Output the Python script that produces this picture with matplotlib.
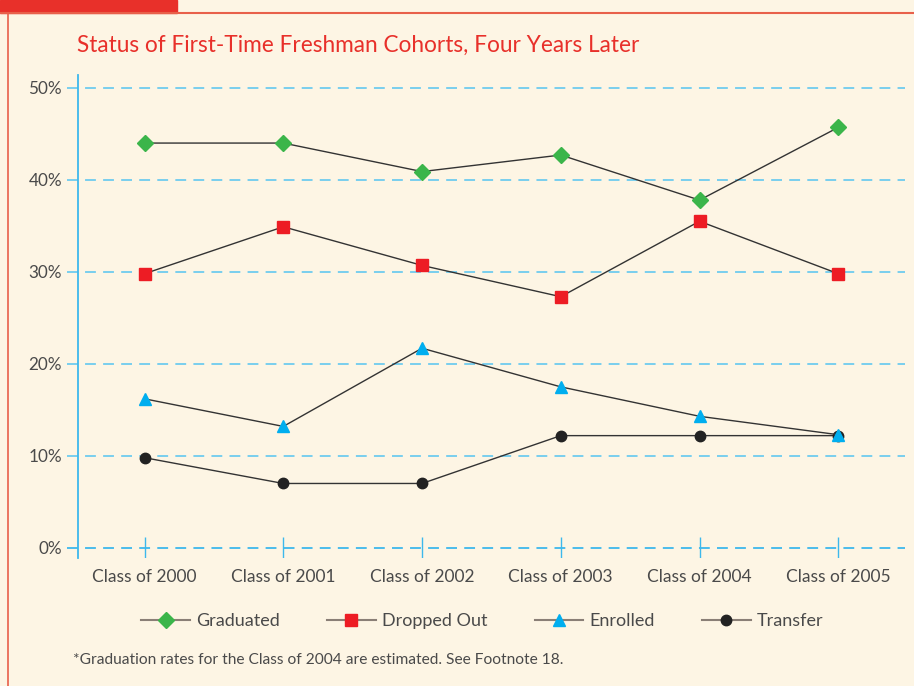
import matplotlib
matplotlib.use("Agg")
import matplotlib.pyplot as plt
from matplotlib.patches import Rectangle
from matplotlib.lines import Line2D

classes = ["Class of 2000", "Class of 2001", "Class of 2002",
           "Class of 2003", "Class of 2004", "Class of 2005"]
graduated = [44.0, 44.0, 40.9, 42.7, 37.8, 45.7]
dropped_out = [29.8, 34.9, 30.7, 27.3, 35.5, 29.8]
enrolled = [16.2, 13.2, 21.7, 17.5, 14.3, 12.3]
transfer = [9.8, 7.0, 7.0, 12.2, 12.2, 12.2]
y_ticks = [0, 10, 20, 30, 40, 50]
y_labels = ["0%", "10%", "20%", "30%", "40%", "50%"]

bg = "#FDF5E4"
red = "#E8302A"
grid_blue = "#6FCBEF"
axis_blue = "#3DB8EC"
text_gray = "#4A4A4A"

plt.rcParams["font.family"] = ["Lato", "DejaVu Sans"]

fig = plt.figure(figsize=(9.14, 6.86), dpi=100, facecolor=bg)
ax = fig.add_axes([0.0853, 0.1866, 0.9047, 0.7041])
ax.set_facecolor(bg)

# page decoration: red tab, top rule, left rule
fig.patches.append(Rectangle((0, 1 - 13 / 686), 177 / 914, 13 / 686,
                             transform=fig.transFigure, color=red, zorder=0))
fig.add_artist(Line2D([0, 1], [1 - 13 / 686] * 2, transform=fig.transFigure,
                      color="#E8604A", lw=1.5))
fig.add_artist(Line2D([8 / 914] * 2, [0, 1 - 13 / 686], transform=fig.transFigure,
                      color="#E8604A", lw=1.2))

x = list(range(len(classes)))
ax.set_xlim(-0.48, 5.48)
ax.set_ylim(-1.1, 51.4)

for t in y_ticks:
    ax.axhline(t, xmin=-0.013, xmax=1, color=grid_blue if t else axis_blue,
               lw=1.3, dashes=(6, 4), clip_on=False, zorder=1)
ax.vlines(x, -1.2, 1.2, color=axis_blue, lw=1.0, zorder=1)

line_kw = dict(color="#333333", lw=1.0)
ax.plot(x, graduated, marker="D", ms=8, mfc="#3BB54A", mec="#3BB54A",
        label="Graduated", zorder=3, **line_kw)
ax.plot(x, dropped_out, marker="s", ms=8, mfc="#ED1C24", mec="#ED1C24",
        label="Dropped Out", zorder=3, **line_kw)
ax.plot(x, transfer, marker="o", ms=7.5, mfc="#222222", mec="#222222",
        label="Transfer", zorder=3, **line_kw)
ax.plot(x, enrolled, marker="^", ms=9, mfc="#00AEEF", mec="#00AEEF",
        label="Enrolled", zorder=4, **line_kw)

for side in ["top", "right", "bottom"]:
    ax.spines[side].set_visible(False)
ax.spines["left"].set_color(axis_blue)
ax.spines["left"].set_linewidth(1.3)

ax.set_yticks(y_ticks)
ax.set_yticklabels(y_labels, fontsize=12.3, color=text_gray)
ax.set_xticks(x)
ax.set_xticklabels(classes, fontsize=12.5, color=text_gray)
ax.tick_params(axis="y", length=0, pad=11.5)
ax.tick_params(axis="x", length=0, pad=8)

fig.text(77 / 914, 1 - 45 / 686, "Status of First-Time Freshman Cohorts, Four Years Later",
         color=red, fontsize=16.3, va="center", ha="left")

# legend: grey line through each marker, Transfer listed last
handles, labels = ax.get_legend_handles_labels()
order = [0, 1, 3, 2]
leg_handles = []
for i in order:
    h = handles[i]
    leg_handles.append(Line2D([], [], color="#8A7F76", lw=1.5, marker=h.get_marker(),
                              ms=h.get_markersize(), mfc=h.get_markerfacecolor(),
                              mec=h.get_markeredgecolor()))
fig.legend(leg_handles, [labels[i] for i in order], loc="center left",
           bbox_to_anchor=(134 / 914, 1 - 621 / 686), ncol=4, frameon=False,
           fontsize=13, handlelength=2.7, handletextpad=0.35, columnspacing=2.6,
           labelcolor=text_gray, borderaxespad=0, borderpad=0.4)

fig.text(73 / 914, 1 - 660 / 686,
         "*Graduation rates for the Class of 2004 are estimated. See Footnote 18.",
         color=text_gray, fontsize=11.2, va="center", ha="left")

fig.savefig("out.png", dpi=100, facecolor=bg)
